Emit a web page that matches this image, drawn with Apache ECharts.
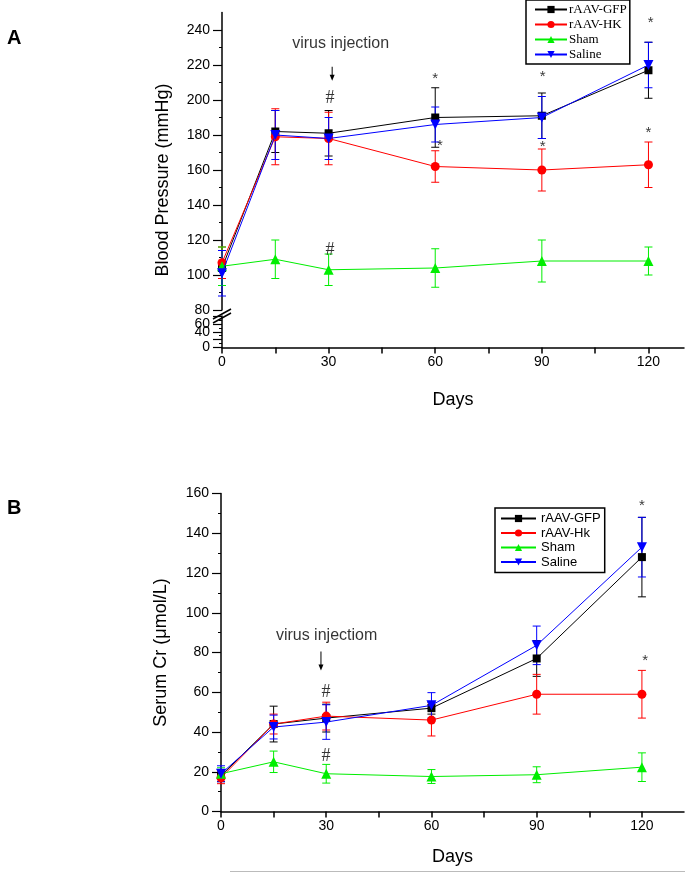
<!DOCTYPE html>
<html><head><meta charset="utf-8">
<script src="https://cdn.jsdelivr.net/npm/echarts@6/dist/echarts.min.js"></script>
<style>html,body{margin:0;padding:0;background:#fff}#c{width:685px;height:873px}</style>
</head><body><div id="c"></div>
<script>
// ---- data ----
const days = [0, 15, 30, 60, 90, 120];
const xTickValues = [0, 15, 30, 45, 60, 75, 90, 105, 120];
const xLabelValues = [0, 30, 60, 90, 120];
const bpTickValues = [80, 100, 120, 140, 160, 180, 200, 220, 240];
const bpStubTickValues = [0, 20, 40, 60, 80];
const crTickValues = [0, 20, 40, 60, 80, 100, 120, 140, 160];
const bpNames = ['rAAV-GFP', 'rAAV-HK', 'Sham', 'Saline'];
const crNames = ['rAAV-GFP', 'rAAV-Hk', 'Sham', 'Saline'];

const bpGFP = [104, 182, 181, 190, 191, 217];
const bpGFPErr = [10, 12, 13, 17, 13, 16];
const bpHK = [107, 179, 178, 162, 160, 163];
const bpHKErr = [9, 16, 15, 9, 12, 13];
const bpSham = [105, 109, 103, 104, 108, 108];
const bpShamErr = [11, 11, 9, 11, 12, 8];
const bpSaline = [101, 180, 178, 186, 190, 220];
const bpSalineErr = [13, 14, 12, 10, 12, 13];

const crGFP = [18, 44, 47, 52, 77, 128];
const crGFPErr = [3, 9, 7, 3, 9, 20];
const crHK = [17, 44, 48, 46, 59, 59];
const crHKErr = [3, 5, 7, 8, 10, 12];
const crSham = [19, 25, 19, 17.6, 18.5, 22.3];
const crShamErr = [3, 5.4, 4.7, 3.5, 4, 7.2];
const crSaline = [19, 42.5, 45, 53.4, 83.6, 133];
const crSalineErr = [4, 6, 8.7, 6.4, 9.7, 15];

// annotations (data coordinates)
const bpNoteText = ['virus injection', '#', '#', '*', '*', '*', '*', '*', '*'];
const bpNoteX = [33.4, 30.4, 30.4, 60, 61.3, 90.2, 90.2, 120.6, 120];
const bpNoteY = [232, 201, 114, 212, 174, 213, 173, 244, 181];
const bpArrow = [31, 219, 211];   // x, y from, y to
const crNoteText = ['virus injectiom', '#', '#', '*', '*'];
const crNoteX = [30.1, 29.9, 29.9, 120, 120.9];
const crNoteY = [88.4, 60.2, 28, 154, 76];
const crArrow = [28.5, 80.5, 71];

// ---- styles ----
const colors = ['#000000', '#ff0000', '#00ee00', '#0000ff'];
const symbols = ['rect', 'circle', 'triangle', 'path://M0,0 L10,0 L5,9 Z'];
const symSizes = [8, 9, 10, 10];
const SANS = 'Liberation Sans';

function lineSeries(name, vals, i, xi, yi) {
  return {
    type: 'line', name, xAxisIndex: xi, yAxisIndex: yi,
    data: days.map((d, k) => [d, vals[k]]),
    symbol: symbols[i], symbolSize: symSizes[i], showSymbol: true,
    itemStyle: { color: colors[i] }, lineStyle: { color: colors[i], width: 1 },
    z: 3 + i, animation: false, clip: false
  };
}
function errSeries(name, vals, errs, i, xi, yi) {
  const color = colors[i];
  return {
    type: 'custom', name: name + ' err', xAxisIndex: xi, yAxisIndex: yi,
    data: days.map((d, k) => [d, vals[k] - errs[k], vals[k] + errs[k]]),
    renderItem(params, api) {
      const lo = api.coord([api.value(0), api.value(1)]);
      const hi = api.coord([api.value(0), api.value(2)]);
      const w = 4;
      const st = { stroke: color, lineWidth: 1 };
      return { type: 'group', children: [
        { type: 'line', shape: { x1: lo[0], y1: lo[1], x2: hi[0], y2: hi[1] }, style: st },
        { type: 'line', shape: { x1: lo[0] - w, y1: lo[1], x2: lo[0] + w, y2: lo[1] }, style: st },
        { type: 'line', shape: { x1: hi[0] - w, y1: hi[1], x2: hi[0] + w, y2: hi[1] }, style: st }
      ] };
    },
    z: 2, silent: true, clip: false, animation: false
  };
}
function arrowSeries(arrow, xi, yi) {
  return {
    type: 'custom', xAxisIndex: xi, yAxisIndex: yi, silent: true, animation: false, clip: false, z: 10,
    data: [arrow],
    renderItem(params, api) {
      const a = api.coord([api.value(0), api.value(1)]);
      const b = api.coord([api.value(0), api.value(2)]);
      return { type: 'group', children: [
        { type: 'line', shape: { x1: a[0], y1: a[1], x2: b[0], y2: b[1] - 4 }, style: { stroke: '#000', lineWidth: 1 } },
        { type: 'polygon', shape: { points: [[b[0] - 2.5, b[1] - 6], [b[0] + 2.5, b[1] - 6], [b[0], b[1]]] }, style: { fill: '#000' } }
      ] };
    }
  };
}
function noteSeries(texts, xs, ys, xi, yi) {
  return {
    type: 'scatter', xAxisIndex: xi, yAxisIndex: yi, symbolSize: 0, silent: true, z: 10,
    animation: false,
    data: texts.map((t, k) => ({
      value: [xs[k], ys[k]], name: t,
      label: t.length > 1 ? { fontFamily: SANS, fontSize: 16 }
        : (t === '#' ? { fontFamily: 'Liberation Serif', fontSize: 18 } : { fontFamily: SANS, fontSize: 15 })
    })),
    label: { show: true, position: 'inside', formatter: p => p.name, color: '#000' }
  };
}

function xAxisDef(gi, max, show, nameGap) {
  return {
    type: 'value', gridIndex: gi, min: 0, max: max, interval: 15, show: show,
    axisLine: { show: true, onZero: false, lineStyle: { color: '#000', width: 1.5 } },
    axisTick: { show: true, length: 6, customValues: xTickValues, lineStyle: { color: '#000', width: 1.5 } },
    axisLabel: { customValues: xLabelValues, color: '#000', fontFamily: SANS, fontSize: 14, margin: 8 },
    splitLine: { show: false },
    name: show ? 'Days' : '', nameLocation: 'middle', nameGap: nameGap,
    nameTextStyle: { color: '#000', fontFamily: SANS, fontSize: 18 }
  };
}
function yAxisDef(gi, min, max, ticks, extra) {
  return Object.assign({
    type: 'value', gridIndex: gi, min: min, max: max, interval: 20,
    axisLine: { show: true, onZero: false, lineStyle: { color: '#000', width: 1.5 } },
    axisTick: { show: true, length: 9, customValues: ticks, lineStyle: { color: '#000', width: 1.2 } },
    minorTick: { show: true, splitNumber: 2, length: 3, lineStyle: { color: '#000', width: 1 } },
    axisLabel: { customValues: ticks, color: '#000', fontFamily: SANS, fontSize: 14, margin: 12,
      hideOverlap: false, showMinLabel: true },
    splitLine: { show: false }, minorSplitLine: { show: false }
  }, extra || {});
}

const legendCommon = {
  orient: 'vertical', borderColor: '#000', borderWidth: 1.5, backgroundColor: '#fff',
  itemHeight: 9, selectedMode: false
};

const option = {
  animation: false,
  backgroundColor: '#fff',
  title: [
    { text: 'A', left: 2, top: 23, textStyle: { fontFamily: SANS, fontWeight: 'bold', fontSize: 20, color: '#000' } },
    { text: 'B', left: 2, top: 493, textStyle: { fontFamily: SANS, fontWeight: 'bold', fontSize: 20, color: '#000' } }
  ],
  grid: [
    { left: 222, top: 12.5, width: 462, height: 297.5 },
    { left: 222, top: 316, width: 462, height: 31.5 },
    { left: 221, top: 493.5, width: 463, height: 318 }
  ],
  xAxis: [
    xAxisDef(0, 130, false, 0),
    xAxisDef(1, 130, true, 44),
    xAxisDef(2, 132, true, 37)
  ],
  yAxis: [
    yAxisDef(0, 80, 250, bpTickValues),
    yAxisDef(1, 0, 80, bpStubTickValues),
    yAxisDef(2, 0, 160, crTickValues, {
      name: 'Serum Cr (\u03bcmol/L)', nameLocation: 'middle', nameGap: 51,
      nameTextStyle: { color: '#000', fontFamily: SANS, fontSize: 18 }
    })
  ],
  legend: [
    Object.assign({}, legendCommon, {
      data: bpNames, left: 526, top: 0, itemWidth: 32, itemGap: 2, padding: [3, 3, 3, 8],
      textStyle: { fontFamily: 'Liberation Serif', fontSize: 13, color: '#000', padding: [0, 0, 0, -3] }
    }),
    Object.assign({}, legendCommon, {
      data: crNames, left: 495, top: 508, itemWidth: 35, itemGap: 1.5, padding: [4, 4, 4, 5],
      textStyle: { fontFamily: SANS, fontSize: 13, color: '#000' }
    })
  ],
  graphic: [
    { type: 'text', x: 163, y: 180, rotation: Math.PI / 2, z: 100,
      style: { text: 'Blood Pressure (mmHg)', fill: '#000', font: '18px "Liberation Sans"', align: 'center', verticalAlign: 'middle' } },
    { type: 'line', z: 100, shape: { x1: 213, y1: 319, x2: 231, y2: 309 }, style: { stroke: '#000', lineWidth: 1.5 } },
    { type: 'line', z: 100, shape: { x1: 213, y1: 323, x2: 231, y2: 313 }, style: { stroke: '#000', lineWidth: 1.5 } },
    { type: 'line', z: 100, shape: { x1: 230, y1: 871.5, x2: 685, y2: 871.5 }, style: { stroke: '#bbbbbb', lineWidth: 1 } }
  ],
  series: [
    errSeries('rAAV-GFP', bpGFP, bpGFPErr, 0, 0, 0),
    errSeries('rAAV-HK', bpHK, bpHKErr, 1, 0, 0),
    errSeries('Sham', bpSham, bpShamErr, 2, 0, 0),
    errSeries('Saline', bpSaline, bpSalineErr, 3, 0, 0),
    lineSeries('rAAV-GFP', bpGFP, 0, 0, 0),
    lineSeries('rAAV-HK', bpHK, 1, 0, 0),
    lineSeries('Sham', bpSham, 2, 0, 0),
    lineSeries('Saline', bpSaline, 3, 0, 0),
    noteSeries(bpNoteText, bpNoteX, bpNoteY, 0, 0),
    arrowSeries(bpArrow, 0, 0),

    errSeries('rAAV-GFP', crGFP, crGFPErr, 0, 2, 2),
    errSeries('rAAV-Hk', crHK, crHKErr, 1, 2, 2),
    errSeries('Sham', crSham, crShamErr, 2, 2, 2),
    errSeries('Saline', crSaline, crSalineErr, 3, 2, 2),
    lineSeries('rAAV-GFP', crGFP, 0, 2, 2),
    lineSeries('rAAV-Hk', crHK, 1, 2, 2),
    lineSeries('Sham', crSham, 2, 2, 2),
    lineSeries('Saline', crSaline, 3, 2, 2),
    noteSeries(crNoteText, crNoteX, crNoteY, 2, 2),
    arrowSeries(crArrow, 2, 2)
  ]
};
const chart = echarts.init(document.getElementById('c'), null, { renderer: 'canvas' });
chart.setOption(option);
</script></body></html>
